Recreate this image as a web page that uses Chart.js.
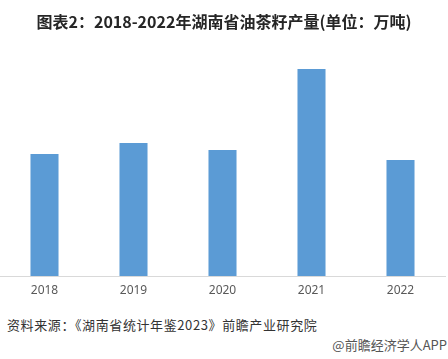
<!DOCTYPE html>
<html>
<head>
<meta charset="utf-8">
<script src="https://cdn.jsdelivr.net/npm/chart.js@4/dist/chart.umd.min.js"></script>
<style>
  html, body { margin:0; padding:0; background:#fff; }
  #wrap { position:relative; width:448px; height:359px; overflow:hidden; font-family:"Noto Sans CJK SC","Microsoft YaHei",sans-serif; }
  #title { position:absolute; left:0; top:9px; width:448px; text-align:center; font-size:16px; font-weight:bold; color:#262626; line-height:24px; }
  #box { position:absolute; left:0; top:0; width:448px; height:306px; }
  #src { position:absolute; left:7px; top:316px; font-size:13px; color:#333; line-height:18px; letter-spacing:0.6px; }
  #app { position:absolute; right:1px; top:336px; font-size:13px; color:#555; line-height:18px; }
</style>
</head>
<body>
<div id="wrap">
  <div id="box"><canvas id="chart"></canvas></div>
  <div id="title">图表2：2018-2022年湖南省油茶籽产量(单位：万吨)</div>
  <div id="src">资料来源：《湖南省统计年鉴2023》前瞻产业研究院</div>
  <div id="app">@前瞻经济学人APP</div>
</div>
<script>
// 年份 / 产量(万吨)
const years = ['2018', '2019', '2020', '2021', '2022'];
const output = [106.1, 115.6, 109.6, 180.0, 100.9];

new Chart(document.getElementById('chart'), {
    type:'bar',
    data:{
        labels: years,
        datasets:[{
            label:'油茶籽产量',
            data: output,
            backgroundColor:'#5B9BD5',
            barPercentage:0.315,
            categoryPercentage:1
        }]
    },
    options:{
        responsive:true,
        maintainAspectRatio:false,
        animation:false,
        layout:{ padding:{ top:46, left:0, right:3, bottom:0 } },
        plugins:{ legend:{display:false}, tooltip:{enabled:false}, title:{display:false} },
        scales:{
            x:{
                grid:{ display:false, drawTicks:false },
                border:{ display:true, color:'#d9d9d9', width:1 },
                ticks:{ color:'#595959', font:{ size:12, family:'"Noto Sans","DejaVu Sans",sans-serif' }, padding:7 },
                afterFit:(scale)=>{ scale.height = 30; }
            },
            y:{ display:false, min:0, max:200 }
        }
    }
});
</script>
</body>
</html>
